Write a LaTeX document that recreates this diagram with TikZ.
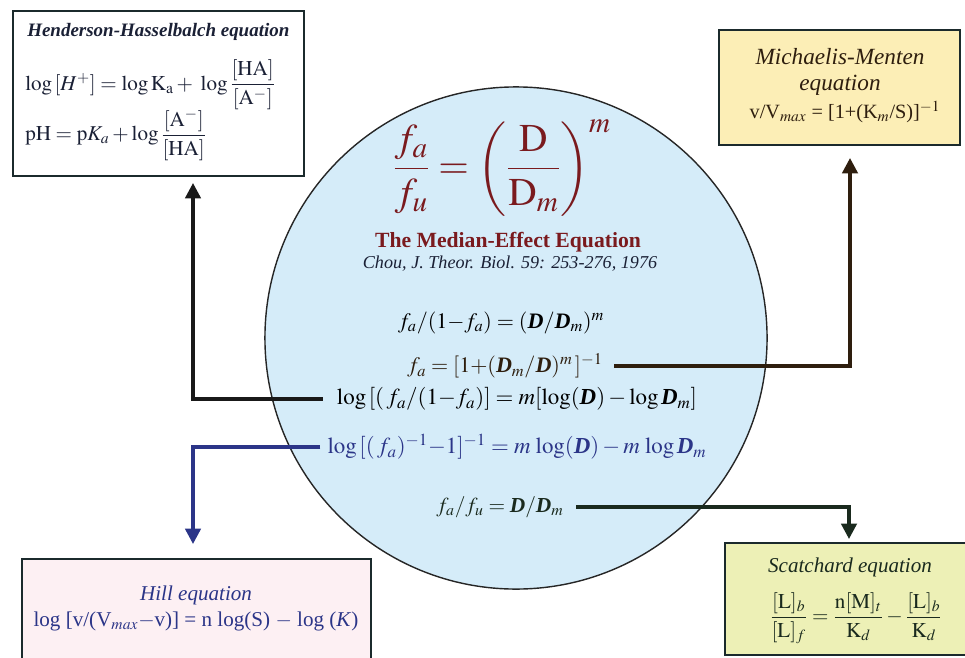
\documentclass[tikz,border=0pt]{standalone}
\usepackage{amsmath}
\usepackage{mathptmx}
\usepackage{fontspec}
\setmainfont{Liberation Serif}
\usepackage{tikz}
\usetikzlibrary{arrows.meta}
\usepackage{xcolor}

\definecolor{medblue}{HTML}{D5ECF9}
\definecolor{medred}{HTML}{7A1A1E}
\definecolor{boxline}{HTML}{1B2A2C}
\definecolor{hillblue}{HTML}{2B3588}
\definecolor{mmfill}{HTML}{FCEEB6}
\definecolor{hillfill}{HTML}{FDF0F3}
\definecolor{scfill}{HTML}{EDF0B6}
\definecolor{darkbrown}{HTML}{2E1E0E}
\definecolor{darkgreen}{HTML}{1A2A1E}
\definecolor{darknavy}{HTML}{1A2035}

\newcommand{\bD}{\mbox{\bfseries\itshape D}}

\begin{document}
\begin{tikzpicture}[x=0.025cm, y=-0.025cm,
					box/.style={rectangle, draw=boxline, line width=1.8pt},
					arr/.style={-{Triangle[length=11pt,width=11pt]}, line width=2.4pt},
					eqn/.style={inner sep=0pt, font=\fontsize{15}{18}\selectfont},
					ceqn/.style={inner sep=0pt, font=\fontsize{16.3}{19}\selectfont}
					]
					\useasboundingbox (0,0) rectangle (965,657);
					
					%Circle
					\node[circle, draw=black!85, line width=1pt, fill=medblue, minimum size=12.55cm] (med) at (516,338) {};
					
					%Boxes
					\node[box, fill=white, minimum width=7.275cm, minimum height=4.125cm] (hh) at (158.5,93.5) {};
					\node[box, fill=mmfill, minimum width=6.025cm, minimum height=2.875cm] (mm) at (839.5,87.5) {};
					\node[box, fill=hillfill, minimum width=8.725cm, minimum height=3.275cm] (hill) at (196.5,624.5) {};
					\node[box, fill=scfill, minimum width=6.25cm, minimum height=2.8cm] (sc) at (850,599) {};
					
					%Circle texts
					\node[inner sep=0pt, text=medred, font=\fontsize{28}{34}\selectfont] (big) at (502,168)
						{$\dfrac{f_a}{f_u} = \left(\dfrac{\mathrm{D}}{\mathrm{D}_m}\right)^{m}$};
					\node[inner sep=0pt, text=medred, font=\fontsize{15.4}{18}\selectfont\bfseries] (title) at (508,242) {The Median-Effect Equation};
					\node[inner sep=0pt, text=darknavy, font=\fontsize{12.9}{15}\selectfont\itshape] (cite) at (510,264) {Chou, J. Theor. Biol. 59: 253-276, 1976};
					\node[ceqn, font=\fontsize{15.7}{19}\selectfont] (eq1) at (501,323) {$f_a/(1{-}f_a) = (\bD/\bD_m)^m$};
					\node[ceqn, font=\fontsize{15.7}{19}\selectfont, text=darkbrown] (eq2) at (505,366) {$f_a = [1{+}(\bD_m/\bD)^m\,]^{-1}$};
					\node[ceqn] (eq3) at (517,399) {$\log\,[(\,f_a/(1{-}f_a)] = m[\log(\bD) - \log\bD_m]$};
					\node[ceqn, text=hillblue] (eq4) at (517,447) {$\log\,[(\,f_a)^{-1}{-}1]^{-1} = m\,\log(\bD) - m\,\log\bD_m$};
					\node[ceqn, font=\fontsize{15.2}{18}\selectfont, text=darkgreen] (eq5) at (500,507) {$f_a/f_u = \bD/\bD_m$};
					
					%Box texts
					\node[anchor=west, inner sep=0pt, text=darknavy, font=\fontsize{13.5}{16}\selectfont\bfseries\itshape] (hhtitle) at (27,32) {Henderson-Hasselbalch equation};
					\node[anchor=west, eqn, text=darknavy] (hheq1) at (25,85) {$\log\,[H^{+}] = \log \mathrm{K}_{\mathrm{a}} + \;\log\dfrac{[\mathrm{HA}]}{[\mathrm{A}^{-}]}$};
					\node[anchor=west, eqn, text=darknavy] (hheq2) at (25,135) {$\mathrm{pH} = \mathrm{p}K_a + \log\dfrac{[\mathrm{A}^{-}]}{[\mathrm{HA}]}$};
					
					\node[eqn, text=darkbrown, font=\fontsize{16.5}{19}\selectfont\itshape] (mmtitle) at (840,57) {Michaelis-Menten};
					\node[eqn, text=darkbrown, font=\fontsize{16.5}{19}\selectfont\itshape] (mmtitle2) at (840,85) {equation};
					\node[eqn, text=darkbrown, font=\fontsize{14.4}{17}\selectfont] (mmeq) at (845,112) {v/V$_{max}$ = [1+(K$_m$/S)]$^{-1}$};
					
					\node[eqn, text=hillblue, font=\fontsize{15}{18}\selectfont\itshape] (hilltitle) at (196,595) {Hill equation};
					\node[eqn, text=hillblue] (hilleq) at (196,621) {log [v/(V$_{max}$$-$v)] = n log(S) $-$ log (\textit{K})};
					
					\node[eqn, text=darkgreen, font=\fontsize{15}{18}\selectfont\itshape] (sctitle) at (850,567) {Scatchard equation};
					\node[eqn, text=darkgreen] (sceq) at (856,618) {$\dfrac{[\mathrm{L}]_b}{[\mathrm{L}]_f} = \dfrac{\mathrm{n}[\mathrm{M}]_t}{\mathrm{K}_d} - \dfrac{[\mathrm{L}]_b}{\mathrm{K}_d}$};
					
					%Arrow ends
					\coordinate (hhin) at (193,183);
					\coordinate (mmin) at (850,158);
					\coordinate (hillin) at (193,544);
					\coordinate (scin) at (849,539);
					
					%Lines
					\draw[arr, color=black!90] (eq3.west) ++(-10pt,0) -| (hhin);
					\draw[arr, color=darkbrown] (eq2.east) ++(8pt,0) -| (mmin);
					\draw[arr, color=hillblue] (eq4.west) ++(-5pt,0) -| (hillin);
					\draw[arr, color=darkgreen] (eq5.east) ++(9pt,0) -| (scin);
				\end{tikzpicture}
\end{document}
